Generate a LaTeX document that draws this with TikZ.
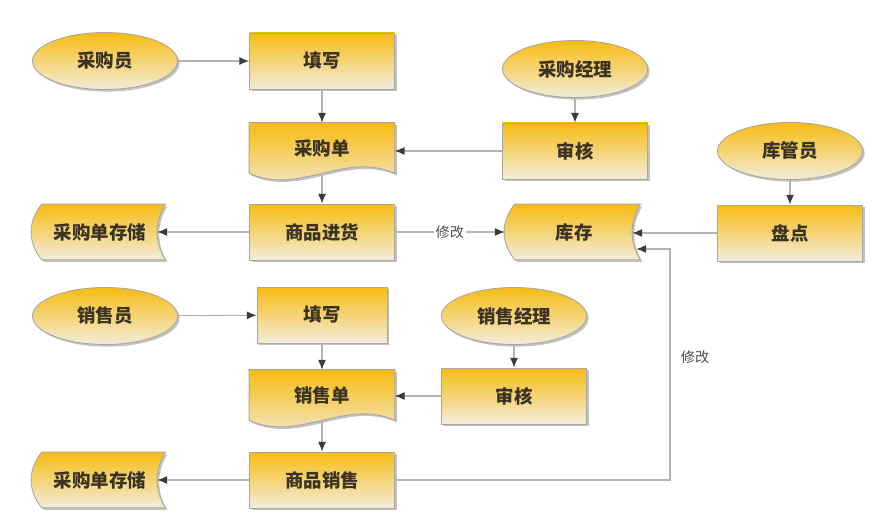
\documentclass[tikz,border=0pt]{standalone}
\usepackage{fontspec}
\newfontfamily\cjk{Noto Sans CJK SC}
\usetikzlibrary{positioning,arrows.meta,shapes.geometric,shadows,backgrounds}
\definecolor{boxtop}{HTML}{F7BC12}
\definecolor{boxbot}{HTML}{F3ECDC}
\definecolor{boxline}{HTML}{A8A8A0}
\definecolor{linegray}{HTML}{B4B4B4}
\definecolor{tipgray}{HTML}{3C3C3C}
\definecolor{textbrown}{HTML}{3A3222}

\begin{document}
\begin{tikzpicture}[
  every node/.style={font=\cjk\bfseries\fontsize{10.5}{12}\selectfont, text=textbrown},
  fillshade/.style={top color=boxtop, bottom color=boxbot, draw=boxline,
                    line width=0.5pt,
                    drop shadow={shadow xshift=1.2pt, shadow yshift=-1.2pt,
                                 opacity=0.4, fill=black!60}},
  box/.style={rectangle, fillshade, minimum width=2.9cm, minimum height=1.12cm},
  role/.style={ellipse, fillshade, minimum width=2.9cm, minimum height=1.14cm},
  doc/.style={rectangle, minimum width=2.9cm, minimum height=1.0cm},
  store/.style={rectangle, minimum width=2.6cm, minimum height=1.1cm},
  note/.style={font=\cjk\fontsize{8}{10}\selectfont, text=black!70},
  arr/.style={draw=linegray, line width=0.6pt,
              -{Latex[length=5.5pt, width=4.5pt, color=tipgray]}}
]
  \useasboundingbox (0,0) rectangle (17.9,10.5);

  % purchasing
  \node[role] (cgy)  at (2.10, 9.28)  {采购员};
  \node[box]  (tx1)  at (6.44, 9.28)  {填写};
  \node[role] (cgjl) at (11.50, 9.12) {采购经理};
  \node[box]  (sh1)  at (11.50, 7.48) {审核};
  \node[doc]  (cgd)  at (6.44, 7.54)  {采购单};
  \node[box]  (jh)   at (6.44, 5.86)  {商品进货};
  \node[store] (cc1) at (2.00, 5.86)  {采购单存储};
  \node[store, minimum width=2.64cm] (kc) at (11.48, 5.86) {库存};
  \node[role] (kgy)  at (15.80, 7.48) {库管员};
  \node[box]  (pd)   at (15.80, 5.84) {盘点};

  % sales
  \node[role] (xsy)  at (2.10, 4.18)  {销售员};
  \node[box, minimum width=2.6cm] (tx2) at (6.44, 4.20) {填写};
  \node[role] (xsjl) at (10.28, 4.18) {销售经理};
  \node[box]  (sh2)  at (10.28, 2.58) {审核};
  \node[doc]  (xsd)  at (6.44, 2.60)  {销售单};
  \node[box]  (xs)   at (6.44, 0.90)  {商品销售};
  \node[store] (cc2) at (2.00, 0.90)  {采购单存储};

  \node[note] (xg2) at (13.90, 3.36) {修改};
  \coordinate (loop) at (13.40, 0.90);

  \begin{scope}[on background layer]
    \foreach \d in {cgd, xsd}
      \path[fillshade] (\d.north west) -- (\d.north east) -- (\d.south east)
        .. controls +(-1.0,0.45) and +(1.0,-0.45) .. (\d.south west) -- cycle;
    \foreach \s in {cc1, cc2, kc}
      \path[fillshade] ([xshift=0.14cm]\s.north west) -- (\s.north east)
        .. controls +(-0.22,-0.35) and +(-0.22,0.35) .. (\s.south east)
        -- ([xshift=0.14cm]\s.south west)
        .. controls +(-0.28,0.35) and +(-0.28,-0.35) .. cycle;
  \end{scope}

  \draw[arr] (cgy) -- (tx1);
  \draw[arr] (tx1) -- (cgd);
  \draw[arr] (cgjl) -- (sh1);
  \draw[arr] (sh1.west) -- (sh1.west -| cgd.east);
  \draw[arr] (cgd.south) -- (jh);
  \draw[arr] (jh.west) -- ([xshift=-0.16cm]cc1.east);
  \draw[arr] (jh.east) -- node[note, fill=white, inner sep=1pt] {修改}
    ([xshift=-0.06cm]kc.west);
  \draw[arr] (kgy) -- (pd);
  \draw[arr] (pd.west) -- ([xshift=-0.16cm]kc.east |- pd.west);

  \draw[arr] (xsy) -- (tx2);
  \draw[arr] (tx2) -- (xsd);
  \draw[arr] (xsjl) -- (sh2);
  \draw[arr] (sh2.west) -- (sh2.west -| xsd.east);
  \draw[arr] (xsd.south) -- (xs);
  \draw[arr] (xs.west) -- ([xshift=-0.16cm]cc2.east);
  \draw[arr] (xs.east) -- (loop) |- ([xshift=-0.08cm, yshift=-0.34cm]kc.east);
\end{tikzpicture}
\end{document}
